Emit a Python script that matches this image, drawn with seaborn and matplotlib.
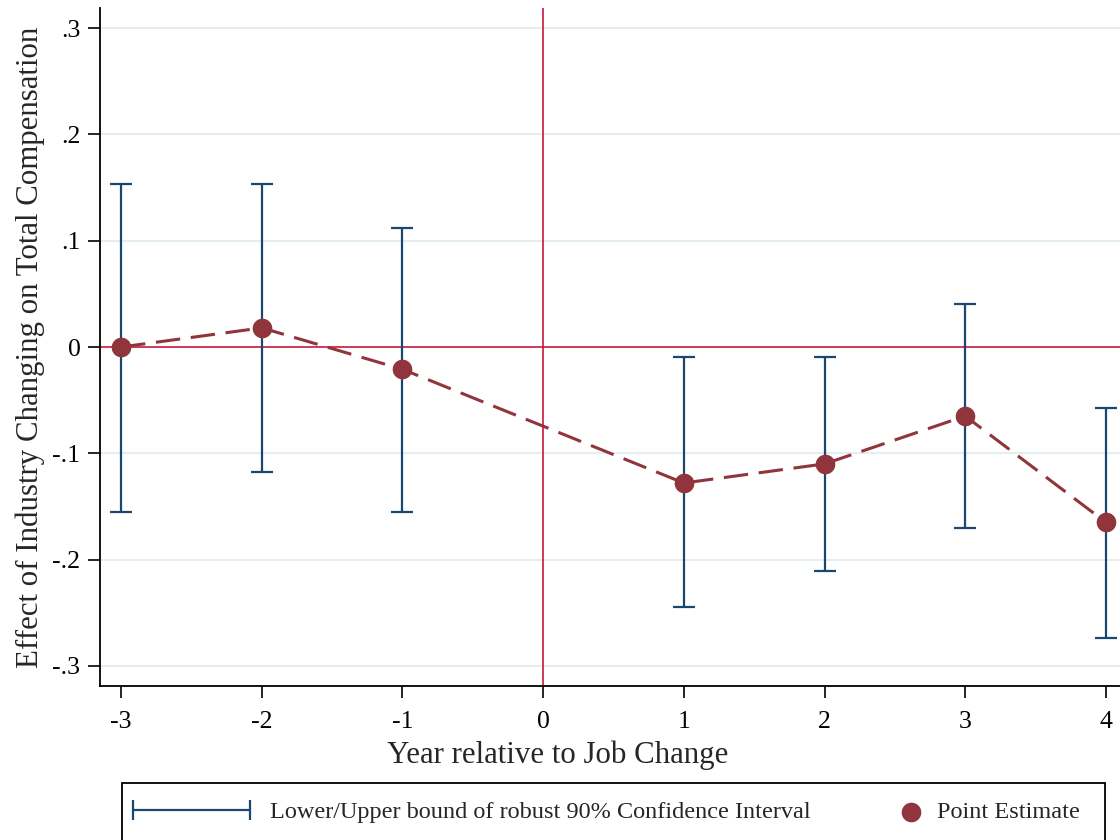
import numpy as np
import pandas as pd
import matplotlib
matplotlib.use("Agg")
import matplotlib.pyplot as plt
from matplotlib.lines import Line2D
from matplotlib.patches import Rectangle
import seaborn as sns

# ---- data ----
years = [-3, -2, -1, 1, 2, 3, 4]
point_est = [0.000, 0.018, -0.021, -0.128, -0.110, -0.065, -0.165]
ci_upper = [0.153, 0.153, 0.112, -0.009, -0.009, 0.040, -0.057]
ci_lower = [-0.155, -0.118, -0.155, -0.245, -0.211, -0.170, -0.274]
xticks = [-3, -2, -1, 0, 1, 2, 3, 4]
yticks = [-0.3, -0.2, -0.1, 0.0, 0.1, 0.2, 0.3]
ytick_labels = ["-.3", "-.2", "-.1", "0", ".1", ".2", ".3"]

df = pd.DataFrame({"year": years, "est": point_est, "lo": ci_lower, "hi": ci_upper})

NAVY = "#1a476f"
MAROON = "#90353b"
REDLINE = "#c8193c"
GRID = "#e4edf0"

sns.set_style("white")
plt.rcParams["font.family"] = ["Liberation Serif", "DejaVu Serif"]

W, H = 1120, 840
fig = plt.figure(figsize=(11.2, 8.4), dpi=100)
ax_w = 1 - 100 / W + 0.02
ax = fig.add_axes([100 / W, 1 - 686 / H, ax_w, (686 - 8) / H])

# grid
for t in yticks:
    if t != 0:
        ax.axhline(t, color=GRID, lw=1.5, zorder=0)

# reference lines
ax.axhline(0, color=REDLINE, lw=1.2, zorder=1)
ax.axvline(0, color=REDLINE, lw=1.2, zorder=1)

# confidence intervals
ax.errorbar(df["year"], (df["lo"] + df["hi"]) / 2, yerr=(df["hi"] - df["lo"]) / 2,
            fmt="none", ecolor=NAVY, elinewidth=1.6, capsize=8, capthick=1.6, zorder=2)

# point estimates connected with dashed line
sns.lineplot(data=df, x="year", y="est", ax=ax, color=MAROON, lw=2.2,
             dashes=False, linestyle=(0, (8, 3.5)), zorder=3)
sns.scatterplot(data=df, x="year", y="est", ax=ax, color=MAROON, s=200,
                edgecolor=MAROON, linewidth=0, zorder=4)

ax.set_xlim(-3.15, 4.1 + 0.02 * W / 140.5)
ax.set_ylim(-0.319, 0.319)
ax.set_xticks(xticks)
ax.set_xticklabels([str(x) for x in xticks])
ax.set_yticks(yticks)
ax.set_yticklabels(ytick_labels)
ax.tick_params(axis="both", direction="out", length=8.6, width=1.2, labelsize=18.5,
               colors="black", left=True, bottom=True)
ax.tick_params(axis="y", pad=5.5)
ax.tick_params(axis="x", pad=9.5)

for side in ["top", "right"]:
    ax.spines[side].set_visible(False)
for side in ["left", "bottom"]:
    ax.spines[side].set_color("black")
    ax.spines[side].set_linewidth(1.3)

ax.set_xlabel("Year relative to Job Change", fontsize=22.2, labelpad=11)
ax.set_ylabel("Effect of Industry Changing on Total Compensation", fontsize=22.2, labelpad=5)
ax.xaxis.set_label_coords((558 - 100) / (ax_w * W), -(755 - 686) / ((686 - 8)), transform=ax.transAxes)
ax.xaxis.label.set_va("center")

# legend frame
fig.patches.append(Rectangle((122 / W, -0.05), (1105 - 122) / W, (1 - 783 / H) + 0.05,
                             transform=fig.transFigure, fill=False,
                             edgecolor="black", lw=1.3))
h_ci = Line2D([], [], color=NAVY, lw=1.6, marker="|", markersize=14, markeredgewidth=1.6)
h_pt = ax.scatter([], [], s=200, color=MAROON, linewidth=0)
fs = 17.5
fig.legend([h_ci], ["Lower/Upper bound of robust 90% Confidence Interval"],
           loc="center left", bbox_to_anchor=(126 / W, 1 - 812 / H),
           frameon=False, fontsize=fs, numpoints=2, borderpad=0, borderaxespad=0,
           handlelength=5.41, handletextpad=0.53)
fig.legend([h_pt], ["Point Estimate"],
           loc="center left", bbox_to_anchor=(899 / W, 1 - 812 / H),
           frameon=False, fontsize=fs, scatterpoints=1, borderpad=0, borderaxespad=0,
           handlelength=1.0, handletextpad=0.58)

fig.savefig("out.png", dpi=100)
